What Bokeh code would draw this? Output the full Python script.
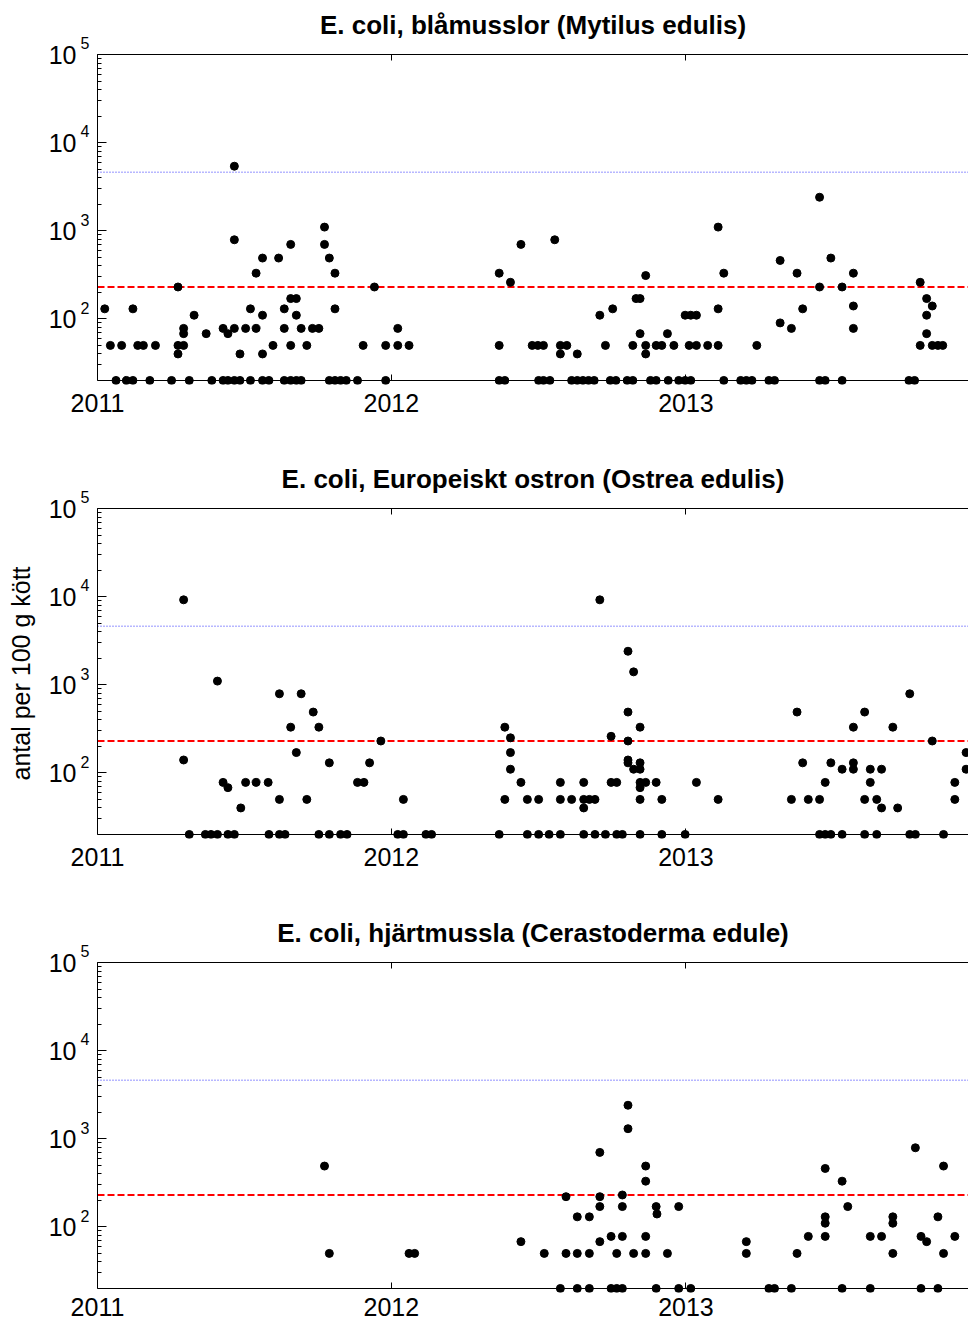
import pandas as pd
from datetime import datetime
from bokeh.plotting import figure
from bokeh.models import (Range1d, FixedTicker, DatetimeAxis, LogAxis, Span,
                          ColumnDataSource, CustomJSTickFormatter, DatetimeTickFormatter)
from bokeh.layouts import column
from bokeh.embed import file_html
from bokeh.resources import INLINE

# ---------------- data ----------------
titles = ["E. coli, blåmusslor (Mytilus edulis)",
          "E. coli, Europeiskt ostron (Ostrea edulis)",
          "E. coli, hjärtmussla (Cerastoderma edule)"]
ylabel = "antal per 100 g kött"
year_ticks = ["2011-01-01", "2012-01-01", "2013-01-01", "2014-01-01"]
year_labels = ["2011", "2012", "2013", "2014"]
decades = [10, 100, 1000, 10000, 100000]
decade_exps = ["1", "2", "3", "4", "5"]
limit_red = 230
limit_blue = 4600

musslor_dates = [
    "2011-01-10", "2011-01-17", "2011-01-24", "2011-01-31", "2011-02-06", "2011-02-14", "2011-02-14",
    "2011-02-20", "2011-02-27", "2011-03-07", "2011-03-14", "2011-04-03", "2011-04-11", "2011-04-11",
    "2011-04-11", "2011-04-18", "2011-04-18", "2011-04-18", "2011-04-25", "2011-05-01", "2011-05-16",
    "2011-05-23", "2011-06-06", "2011-06-06", "2011-06-12", "2011-06-12", "2011-06-20", "2011-06-20",
    "2011-06-20", "2011-06-20", "2011-06-27", "2011-06-27", "2011-07-04", "2011-07-10", "2011-07-10",
    "2011-07-17", "2011-07-17", "2011-07-25", "2011-07-25", "2011-07-25", "2011-07-25", "2011-08-02",
    "2011-08-07", "2011-08-14", "2011-08-21", "2011-08-21", "2011-08-21", "2011-08-29", "2011-08-29",
    "2011-08-29", "2011-08-29", "2011-09-05", "2011-09-05", "2011-09-05", "2011-09-11", "2011-09-11",
    "2011-09-18", "2011-09-25", "2011-10-03", "2011-10-10", "2011-10-10", "2011-10-16", "2011-10-16",
    "2011-10-23", "2011-10-23", "2011-10-23", "2011-10-30", "2011-11-06", "2011-11-20", "2011-11-27",
    "2011-12-11", "2011-12-25", "2011-12-25", "2012-01-09", "2012-01-09", "2012-01-23", "2012-05-14",
    "2012-05-14", "2012-05-14", "2012-05-21", "2012-05-28", "2012-06-10", "2012-06-24", "2012-07-01",
    "2012-07-02", "2012-07-08", "2012-07-08", "2012-07-16", "2012-07-22", "2012-07-29", "2012-07-29",
    "2012-08-06", "2012-08-12", "2012-08-19", "2012-08-19", "2012-08-26", "2012-09-02", "2012-09-09",
    "2012-09-16", "2012-09-23", "2012-09-29", "2012-10-02", "2012-10-06", "2012-10-20", "2012-10-27",
    "2012-10-27", "2012-10-31", "2012-11-05", "2012-11-05", "2012-11-12", "2012-11-12", "2012-11-12",
    "2012-11-18", "2012-11-25", "2012-11-25", "2012-12-02", "2012-12-09", "2012-12-10", "2012-12-17",
    "2012-12-23", "2012-12-31", "2012-12-31", "2013-01-05", "2013-01-07", "2013-01-07", "2013-01-14",
    "2013-01-14", "2013-01-28", "2013-02-10", "2013-02-10", "2013-02-10", "2013-02-17", "2013-02-17",
    "2013-03-10", "2013-03-17", "2013-03-24", "2013-03-30", "2013-04-14", "2013-04-21", "2013-04-28",
    "2013-04-28", "2013-05-12", "2013-05-19", "2013-05-26", "2013-06-16", "2013-06-16", "2013-06-16",
    "2013-06-23", "2013-06-30", "2013-07-14", "2013-07-14", "2013-07-28", "2013-07-28", "2013-07-28",
    "2013-10-05", "2013-10-12", "2013-10-19", "2013-10-19", "2013-10-27", "2013-10-27", "2013-10-27",
    "2013-11-03", "2013-11-03", "2013-11-10", "2013-11-16"]
musslor_values = [
    130, 50, 20, 50, 20, 20, 130,
    50, 50, 20, 50, 20, 230, 40,
    50, 78, 68, 50, 20, 110, 68,
    20, 78, 20, 68, 20, 5400, 790,
    78, 20, 40, 20, 78, 130, 20,
    330, 78, 490, 110, 40, 20, 20,
    50, 490, 130, 78, 20, 700, 170,
    50, 20, 170, 110, 20, 78, 20,
    50, 78, 78, 1100, 700, 490, 20,
    330, 130, 20, 20, 20, 20, 50,
    230, 50, 20, 78, 50, 50, 330,
    50, 20, 20, 260, 700, 50, 50,
    20, 50, 20, 20, 790, 50, 40,
    50, 20, 40, 20, 20, 20, 20,
    110, 50, 20, 130, 20, 20, 50,
    20, 170, 170, 68, 310, 50, 40,
    20, 20, 50, 50, 68, 20, 50,
    20, 110, 20, 50, 110, 20, 110,
    50, 50, 1100, 130, 50, 330, 20,
    20, 20, 20, 50, 20, 20, 460,
    90, 78, 330, 130, 2400, 230, 20,
    20, 490, 230, 20, 330, 140, 78,
    20, 20, 260, 50, 170, 110, 68,
    140, 50, 50, 50]

ostron_dates = [
    "2011-04-18", "2011-04-18", "2011-04-25", "2011-05-15", "2011-05-22", "2011-05-30", "2011-05-30",
    "2011-06-06", "2011-06-12", "2011-06-12", "2011-06-20", "2011-06-28", "2011-07-04", "2011-07-17",
    "2011-08-01", "2011-08-02", "2011-08-15", "2011-08-15", "2011-08-15", "2011-08-22", "2011-08-29",
    "2011-09-05", "2011-09-11", "2011-09-18", "2011-09-26", "2011-10-03", "2011-10-03", "2011-10-16",
    "2011-10-16", "2011-10-30", "2011-11-07", "2011-11-20", "2011-11-28", "2011-12-05", "2011-12-19",
    "2012-01-09", "2012-01-16", "2012-01-16", "2012-02-13", "2012-02-20", "2012-05-14", "2012-05-21",
    "2012-05-21", "2012-05-28", "2012-05-28", "2012-05-28", "2012-06-10", "2012-06-18", "2012-06-18",
    "2012-07-02", "2012-07-02", "2012-07-15", "2012-07-29", "2012-07-29", "2012-07-29", "2012-08-12",
    "2012-08-27", "2012-08-27", "2012-08-27", "2012-08-27", "2012-09-03", "2012-09-10", "2012-09-10",
    "2012-09-16", "2012-09-23", "2012-09-30", "2012-09-30", "2012-10-07", "2012-10-07", "2012-10-14",
    "2012-10-21", "2012-10-21", "2012-10-21", "2012-10-21", "2012-10-21", "2012-10-28", "2012-10-28",
    "2012-11-05", "2012-11-05", "2012-11-05", "2012-11-05", "2012-11-05", "2012-11-05", "2012-11-05",
    "2012-11-12", "2012-11-25", "2012-12-02", "2012-12-02", "2012-12-31", "2013-01-14", "2013-02-10",
    "2013-05-12", "2013-05-19", "2013-05-26", "2013-06-02", "2013-06-16", "2013-06-16", "2013-06-23",
    "2013-06-23", "2013-06-30", "2013-06-30", "2013-07-14", "2013-07-14", "2013-07-28", "2013-07-28",
    "2013-07-28", "2013-08-11", "2013-08-11", "2013-08-11", "2013-08-18", "2013-08-18", "2013-08-26",
    "2013-08-26", "2013-09-01", "2013-09-01", "2013-09-15", "2013-09-21", "2013-10-06", "2013-10-06",
    "2013-10-13", "2013-11-03", "2013-11-17", "2013-12-01", "2013-12-01", "2013-12-15", "2013-12-15"]
ostron_values = [
    9200, 140, 20, 20, 20, 20, 1100,
    78, 68, 20, 20, 40, 78, 78,
    78, 20, 790, 50, 20, 20, 330,
    170, 790, 50, 490, 330, 20, 130,
    20, 20, 20, 78, 78, 130, 230,
    20, 50, 20, 20, 20, 20, 330,
    50, 250, 170, 110, 78, 50, 20,
    50, 20, 20, 78, 50, 20, 50,
    78, 50, 40, 20, 50, 50, 20,
    9200, 20, 260, 78, 78, 20, 20,
    2400, 490, 230, 140, 130, 1400, 110,
    330, 130, 110, 78, 68, 50, 20,
    78, 78, 50, 20, 20, 78, 50,
    50, 490, 130, 50, 50, 20, 78,
    20, 130, 20, 110, 20, 330, 130,
    110, 490, 50, 20, 110, 78, 50,
    20, 110, 40, 330, 40, 790, 20,
    20, 230, 20, 78, 50, 170, 110]

hjartmussla_dates = [
    "2011-10-10", "2011-10-16", "2012-01-23", "2012-01-30", "2012-06-10", "2012-07-09", "2012-07-29",
    "2012-08-05", "2012-08-05", "2012-08-19", "2012-08-19", "2012-08-19", "2012-09-03", "2012-09-03",
    "2012-09-03", "2012-09-16", "2012-09-16", "2012-09-16", "2012-09-16", "2012-09-30", "2012-09-30",
    "2012-10-07", "2012-10-07", "2012-10-14", "2012-10-14", "2012-10-14", "2012-10-14", "2012-10-21",
    "2012-10-21", "2012-10-28", "2012-11-12", "2012-11-12", "2012-11-12", "2012-11-12", "2012-11-25",
    "2012-11-25", "2012-11-26", "2012-12-09", "2012-12-23", "2012-12-23", "2013-01-07", "2013-03-17",
    "2013-03-17", "2013-04-14", "2013-04-21", "2013-05-12", "2013-05-19", "2013-06-02", "2013-06-23",
    "2013-06-23", "2013-06-23", "2013-06-23", "2013-07-14", "2013-07-14", "2013-07-21", "2013-08-18",
    "2013-08-18", "2013-09-01", "2013-09-15", "2013-09-15", "2013-09-15", "2013-10-13", "2013-10-20",
    "2013-10-20", "2013-10-27", "2013-11-10", "2013-11-10", "2013-11-17", "2013-11-17", "2013-12-01"]
hjartmussla_values = [
    490, 50, 50, 50, 68, 50, 20,
    220, 50, 130, 50, 20, 130, 50,
    20, 700, 220, 170, 68, 78, 20,
    50, 20, 230, 170, 78, 20, 2400,
    1300, 50, 490, 330, 78, 50, 170,
    20, 140, 50, 170, 20, 20, 68,
    50, 20, 20, 20, 50, 78, 460,
    130, 110, 78, 330, 20, 170, 78,
    20, 78, 130, 110, 50, 790, 78,
    20, 68, 130, 20, 490, 50, 78]

# ---------------- styling ----------------
FONT = "Liberation Sans"
X_START = datetime(2011, 1, 1)
X_END = datetime(2013, 12, 18)
Y_LO, Y_HI = 18, 100000
FRAME_H = 330
TOP = 54
LEFT = 97


def ms(d):
    return int((pd.Timestamp(d) - pd.Timestamp("1970-01-01")).total_seconds() * 1000)


def blank_fmt():
    return CustomJSTickFormatter(code="return ''")


def year_fmt():
    f = "%Y"
    return DatetimeTickFormatter(years=f, months=f, days=f, hours=f, hourmin=f, minutes=f,
                                 minsec=f, seconds=f, milliseconds=f, microseconds=f)


def make_panel(title, dates, values, height, with_ylabel, xlab_standoff):
    bottom = height - TOP - FRAME_H
    p = figure(width=968, height=height, x_axis_type="datetime", y_axis_type="log",
               x_range=Range1d(X_START, X_END), y_range=Range1d(Y_LO, Y_HI),
               output_backend="svg", toolbar_location=None,
               min_border_left=LEFT, min_border_right=0,
               min_border_top=TOP, min_border_bottom=bottom)
    p.outline_line_color = None
    p.xgrid.visible = False
    p.ygrid.visible = False

    # left (log) axis: line + ticks
    ya = p.yaxis[0]
    minors = [m * d for d in decades for m in range(2, 10)]
    ya.ticker = FixedTicker(ticks=decades, minor_ticks=minors)
    ya.formatter = blank_fmt()
    ya.major_label_text_font_size = "0px"
    ya.major_label_standoff = 0
    ya.major_tick_in = 9
    ya.major_tick_out = 0
    ya.minor_tick_in = 4
    ya.minor_tick_out = 0
    ya.axis_line_color = "black"
    ya.major_tick_line_color = "black"
    ya.minor_tick_line_color = "black"
    ya.bounds = (20, Y_HI)

    # exponent labels (raised by a blank second line)
    exp_axis = LogAxis(ticker=FixedTicker(ticks=decades, minor_ticks=[]), formatter=blank_fmt(),
                       major_label_overrides={d: e + "\n\u00a0" for d, e in zip(decades, decade_exps)},
                       major_label_text_font=FONT, major_label_text_font_size="16px",
                       major_label_text_color="black", major_label_text_line_height=1.25,
                       major_label_standoff=8, axis_line_color=None,
                       major_tick_line_color=None, minor_tick_line_color=None,
                       major_tick_in=0, major_tick_out=0, minor_tick_in=0, minor_tick_out=0)
    p.add_layout(exp_axis, "left")

    # base "10" labels
    base_axis = LogAxis(ticker=FixedTicker(ticks=decades, minor_ticks=[]), formatter=blank_fmt(),
                        major_label_overrides={d: "10" for d in decades},
                        major_label_text_font=FONT, major_label_text_font_size="25px",
                        major_label_text_color="black", major_label_standoff=1,
                        axis_line_color=None, major_tick_line_color=None,
                        minor_tick_line_color=None, major_tick_in=0, major_tick_out=0,
                        minor_tick_in=0, minor_tick_out=0)
    if with_ylabel:
        base_axis.axis_label = ylabel
        base_axis.axis_label_text_font = FONT
        base_axis.axis_label_text_font_size = "25px"
        base_axis.axis_label_text_font_style = "normal"
        base_axis.axis_label_text_color = "black"
        base_axis.axis_label_standoff = 11
    p.add_layout(base_axis, "left")

    xt = [ms(d) for d in year_ticks]

    # bottom axis, labels only (at frame edge)
    xa = p.xaxis[0]
    xa.ticker = FixedTicker(ticks=xt, minor_ticks=[])
    xa.formatter = year_fmt()
    xa.major_label_overrides = {t: lab for t, lab in zip(xt, year_labels)}
    xa.major_label_text_font = FONT
    xa.major_label_text_font_size = "25px"
    xa.major_label_text_color = "black"
    xa.major_label_standoff = xlab_standoff
    xa.major_tick_in = 0
    xa.major_tick_out = 0
    xa.minor_tick_in = 0
    xa.minor_tick_out = 0
    xa.axis_line_color = None
    xa.major_tick_line_color = None
    xa.minor_tick_line_color = None

    # bottom axis line + inward ticks drawn at y = 20
    la = DatetimeAxis(ticker=FixedTicker(ticks=xt, minor_ticks=[]), formatter=blank_fmt(),
                      major_label_text_font_size="0px", major_label_standoff=0,
                      major_tick_in=6, major_tick_out=0, minor_tick_in=0, minor_tick_out=0,
                      axis_line_color="black", major_tick_line_color="black",
                      fixed_location=20)
    p.add_layout(la, "below")

    # top axis (frame edge) carrying the panel title
    ta = DatetimeAxis(ticker=FixedTicker(ticks=xt, minor_ticks=[]), formatter=blank_fmt(),
                      major_label_text_font_size="0px", major_label_standoff=0,
                      major_tick_in=6, major_tick_out=0, minor_tick_in=0, minor_tick_out=0,
                      axis_line_color="black", major_tick_line_color="black",
                      axis_label=title, axis_label_text_font=FONT,
                      axis_label_text_font_size="26px", axis_label_text_font_style="bold",
                      axis_label_text_color="black", axis_label_standoff=15)
    p.add_layout(ta, "above")

    # limit lines
    p.add_layout(Span(location=limit_blue, dimension="width", line_color="#6f6fff",
                      line_dash="1 2", line_width=1.5, level="underlay"))
    p.add_layout(Span(location=limit_red, dimension="width", line_color="#ff0000",
                      line_dash="7 3", line_width=2, level="underlay"))

    # data points
    src = ColumnDataSource(dict(x=pd.to_datetime(dates), y=values))
    p.scatter("x", "y", source=src, size=8, color="black")
    return p


p1 = make_panel(titles[0], musslor_dates, musslor_values, 454, False, 9)
p2 = make_panel(titles[1], ostron_dates, ostron_values, 454, True, 9)
p3 = make_panel(titles[2], hjartmussla_dates, hjartmussla_values, 417, False, 5)

layout = column(p1, p2, p3, spacing=0)
open("out.html", "w").write(file_html(layout, INLINE))
